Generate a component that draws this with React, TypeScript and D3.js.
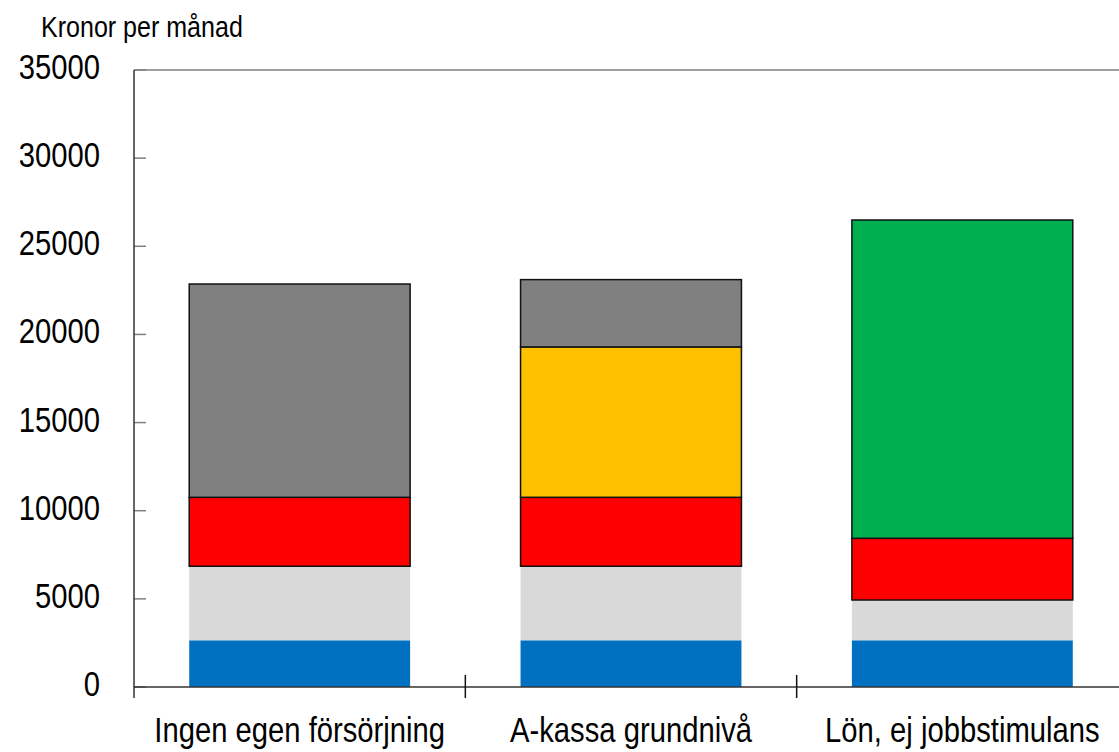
import * as d3 from 'd3'

const categories = ['Ingen egen försörjning', 'A-kassa grundnivå', 'Lön, ej jobbstimulans']

// one array per stacked segment, bottom to top
const barnbidrag = [2650, 2650, 2650]
const bostadsbidrag = [4200, 4200, 2285]
const underhall = [3910, 3910, 3500]
const akassa = [0, 8530, 0]
const lon = [0, 0, 18055]
const bistand = [12100, 3820, 0]

const yTicks = [0, 5000, 10000, 15000, 20000, 25000, 30000, 35000]

const seriesKeys = ['barnbidrag', 'bostadsbidrag', 'underhall', 'akassa', 'lon', 'bistand']
const seriesColor: Record<string, string> = {
  barnbidrag: '#0070c0',
  bostadsbidrag: '#d9d9d9',
  underhall: '#ff0000',
  akassa: '#ffc000',
  lon: '#00b050',
  bistand: '#808080',
}
const outlined = new Set(['underhall', 'akassa', 'lon', 'bistand'])

const W = 1119
const H = 752
const LEFT = 134
const RIGHT = 1128
const TOP = 70
const BOTTOM = 687
const FONT = "'Liberation Sans', Arial, sans-serif"
const NARROW = 0.835 // the original face is a condensed grotesk

function NarrowText(props: { x: number; y: number; anchor?: string; size: number; children: any }) {
  return (
    <text
      transform={`translate(${props.x},${props.y}) scale(${NARROW},1)`}
      textAnchor={props.anchor ?? 'start'}
      fontSize={props.size}
      fill="#000"
    >
      {props.children}
    </text>
  )
}

export default function App() {
  const rows = categories.map((c, i) => ({
    category: c,
    barnbidrag: barnbidrag[i],
    bostadsbidrag: bostadsbidrag[i],
    underhall: underhall[i],
    akassa: akassa[i],
    lon: lon[i],
    bistand: bistand[i],
  }))

  const stacked = d3.stack<any>().keys(seriesKeys)(rows)

  const x = d3
    .scaleBand()
    .domain(categories)
    .range([LEFT, RIGHT])
    .paddingInner(1 / 3)
    .paddingOuter(1 / 6)

  const y = d3.scaleLinear().domain([0, 35000]).range([BOTTOM, TOP])

  const step = x.step()
  const boundaries = d3.range(categories.length + 1).map((i) => LEFT + i * step)

  return (
    <svg
      width={W}
      height={H}
      style={{ position: 'absolute', left: 0, top: 0, background: 'white' }}
      fontFamily={FONT}
    >
      {/* frame top */}
      <line x1={LEFT} x2={RIGHT} y1={TOP} y2={TOP} stroke="#7f7f7f" strokeWidth={1.5} />

      {/* bars */}
      {stacked.map((s) => (
        <g key={s.key}>
          {s.map((d, i) =>
            d[1] - d[0] > 0 ? (
              <rect
                key={i}
                x={x(categories[i])}
                width={x.bandwidth()}
                y={y(d[1])}
                height={y(d[0]) - y(d[1])}
                fill={seriesColor[s.key]}
                stroke={outlined.has(s.key) ? '#111' : 'none'}
                strokeWidth={1.5}
              />
            ) : null
          )}
        </g>
      ))}

      {/* y ticks and labels */}
      {yTicks.map((t) => (
        <g key={t}>
          <line x1={LEFT} x2={LEFT + 12} y1={y(t)} y2={y(t)} stroke="#7f7f7f" strokeWidth={1.5} />
          <NarrowText x={100} y={y(t) + 9} anchor="end" size={35}>
            {t}
          </NarrowText>
        </g>
      ))}

      {/* axes */}
      <line x1={LEFT} x2={LEFT} y1={TOP} y2={BOTTOM + 11} stroke="#333" strokeWidth={1.5} />
      <line x1={LEFT} x2={RIGHT} y1={BOTTOM} y2={BOTTOM} stroke="#333" strokeWidth={1.5} />
      {boundaries.slice(1).map((bx, i) => (
        <line key={i} x1={bx} x2={bx} y1={BOTTOM - 12} y2={BOTTOM + 11} stroke="#111" strokeWidth={1.5} />
      ))}

      {/* category labels */}
      {categories.map((c) => (
        <NarrowText key={c} x={(x(c) ?? 0) + x.bandwidth() / 2} y={742} anchor="middle" size={35}>
          {c}
        </NarrowText>
      ))}

      {/* unit label */}
      <NarrowText x={41} y={37} size={30}>
        Kronor per månad
      </NarrowText>
    </svg>
  )
}
